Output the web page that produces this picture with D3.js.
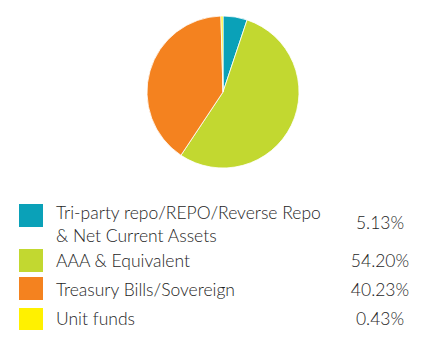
<!DOCTYPE html>
<html>
<head>
<meta charset="utf-8">
<script src="https://cdn.jsdelivr.net/npm/d3@7"></script>
<style>
  html, body { margin: 0; padding: 0; background: #fff; }
  svg { display: block; }
  text { font-family: Lato, "Noto Sans", sans-serif; font-weight: 300; fill: #1e1e1e; }
</style>
</head>
<body>
<svg id="chart" width="448" height="345"></svg>
<script>
// Portfolio allocation by instrument type (% of net assets)
const categories = [
  ["Tri-party repo/REPO/Reverse Repo", "& Net Current Assets"],
  ["AAA & Equivalent"],
  ["Treasury Bills/Sovereign"],
  ["Unit funds"]
];
const values = [5.13, 54.20, 40.23, 0.43];
const valueLabels = ["5.13%", "54.20%", "40.23%", "0.43%"];
const colors = ["#0aa1b8", "#c2d830", "#f4821f", "#fff100"];

const svg = d3.select("#chart");
const cx = 223, cy = 92, r = 76;

const color = d3.scaleOrdinal().domain(d3.range(values.length)).range(colors);
const pie = d3.pie().sort(null).value(d => d)(values);
const arc = d3.arc().innerRadius(0).outerRadius(r);

svg.append("g")
  .attr("transform", `translate(${cx},${cy})`)
  .selectAll("path")
  .data(pie)
  .join("path")
  .attr("d", arc)
  .attr("fill", (d, i) => color(i))
  .attr("stroke", "#fff")
  .attr("stroke-width", 0.8);

// Legend rows: swatch, label (one or two lines), value
const rows = [
  { top: 204, h: 23, lines: [219, 242], val: 229 },
  { top: 249, h: 23, lines: [267], val: 267 },
  { top: 277, h: 23, lines: [296], val: 296 },
  { top: 308, h: 22, lines: [325], val: 325 }
];

const fs = 17.5;
const legend = svg.append("g");
rows.forEach((row, i) => {
  legend.append("rect")
    .attr("x", 19).attr("y", row.top)
    .attr("width", 24).attr("height", row.h)
    .attr("fill", color(i));
  categories[i].forEach((line, j) => {
    legend.append("text")
      .attr("x", 56).attr("y", row.lines[j])
      .attr("font-size", fs)
      .text(line);
  });
  legend.append("text")
    .attr("x", 380).attr("y", row.val)
    .attr("text-anchor", "middle")
    .attr("font-size", fs)
    .text(valueLabels[i]);
});
</script>
</body>
</html>
